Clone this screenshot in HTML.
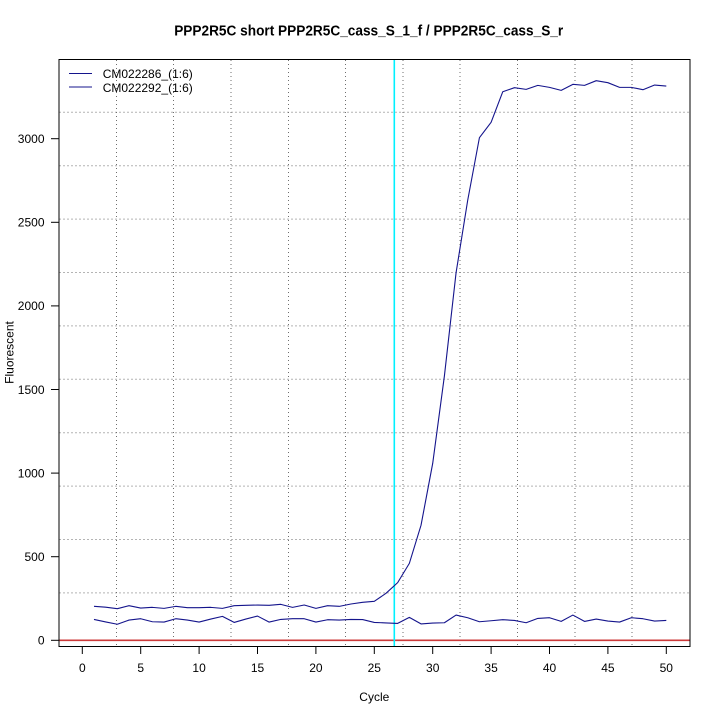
<!DOCTYPE html>
<html><head><meta charset="utf-8"><style>
html,body{margin:0;padding:0;background:#fff;}
svg{display:block;}
text{font-family:"Liberation Sans",Arial,sans-serif;fill:#000;}
</style></head><body>
<svg width="720" height="720" viewBox="0 0 720 720" xmlns="http://www.w3.org/2000/svg">
<rect width="720" height="720" fill="#fff"/>
<text x="368.7" y="35.5" text-anchor="middle" font-size="14.4" font-weight="bold" textLength="389" lengthAdjust="spacingAndGlyphs">PPP2R5C short PPP2R5C_cass_S_1_f / PPP2R5C_cass_S_r</text>
<!-- horizontal grid -->
<g stroke="#b4b4b4" stroke-width="1" stroke-dasharray="2,2">
<line x1="59" x2="690" y1="112.3" y2="112.3"/>
<line x1="59" x2="690" y1="165.7" y2="165.7"/>
<line x1="59" x2="690" y1="219.1" y2="219.1"/>
<line x1="59" x2="690" y1="272.5" y2="272.5"/>
<line x1="59" x2="690" y1="325.9" y2="325.9"/>
<line x1="59" x2="690" y1="379.3" y2="379.3"/>
<line x1="59" x2="690" y1="432.7" y2="432.7"/>
<line x1="59" x2="690" y1="486.1" y2="486.1"/>
<line x1="59" x2="690" y1="539.5" y2="539.5"/>
<line x1="59" x2="690" y1="592.9" y2="592.9"/>
</g>
<!-- vertical grid -->
<g stroke="#6e6e6e" stroke-width="1" stroke-dasharray="1,3">
<line x1="116.5" x2="116.5" y1="60" y2="646"/>
<line x1="173.5" x2="173.5" y1="60" y2="646"/>
<line x1="231" x2="231" y1="60" y2="646"/>
<line x1="288.5" x2="288.5" y1="60" y2="646"/>
<line x1="345.5" x2="345.5" y1="60" y2="646"/>
<line x1="403" x2="403" y1="60" y2="646"/>
<line x1="460" x2="460" y1="60" y2="646"/>
<line x1="517.5" x2="517.5" y1="60" y2="646"/>
<line x1="575" x2="575" y1="60" y2="646"/>
<line x1="632" x2="632" y1="60" y2="646"/>
</g>
<!-- red baseline -->
<line x1="59" x2="690" y1="640.3" y2="640.3" stroke="#cc3a3a" stroke-width="1.6"/>
<!-- cyan threshold -->
<line x1="394.3" x2="394.3" y1="59" y2="646" stroke="#00f0ff" stroke-width="1.6"/>
<!-- series -->
<g transform="translate(82.3,640.3) scale(11.68,-0.1672)" fill="none" stroke="#14148c" stroke-width="1.1">
<polyline vector-effect="non-scaling-stroke" stroke-linejoin="round" points="1,203 2,198 3,189 4,207 5,193 6,197 7,191 8,203 9,195 10,195 11,197 12,191 13,207 14,209 15,211 16,209 17,215 18,197 19,211 20,191 21,207 22,203 23,217 24,227 25,233 26,281 27,345 28,460 29,688 30,1058 31,1580 32,2198 33,2633 34,3006 35,3098 36,3281 37,3305 38,3295 39,3319 40,3307 41,3289 42,3325 43,3319 44,3347 45,3335 46,3307 47,3307 48,3293 49,3321 50,3315"/>
<polyline vector-effect="non-scaling-stroke" stroke-linejoin="round" points="1,125 2,110 3,96 4,121 5,129 6,111 7,109 8,129 9,121 10,109 11,127 12,143 13,107 14,127 15,145 16,109 17,125 18,129 19,129 20,109 21,123 22,121 23,125 24,124 25,107 26,104 27,101 28,137 29,98 30,103 31,105 32,151 33,135 34,111 35,117 36,123 37,119 38,105 39,131 40,135 41,113 42,151 43,113 44,127 45,115 46,109 47,135 48,129 49,115 50,119"/>
</g>
<!-- box -->
<line x1="59" x2="690" y1="59.5" y2="59.5" stroke="#000" stroke-width="1"/>
<line x1="59" x2="690" y1="646.5" y2="646.5" stroke="#000" stroke-width="1"/>
<line x1="59" x2="59" y1="59" y2="647" stroke="#000" stroke-width="1"/>
<line x1="690" x2="690" y1="59" y2="647" stroke="#000" stroke-width="1"/>
<!-- legend -->
<line x1="69" x2="92" y1="73.5" y2="73.5" stroke="#14148c" stroke-width="1"/>
<line x1="69" x2="92" y1="87" y2="87" stroke="#14148c" stroke-width="1"/>
<text x="102.7" y="78" font-size="12">CM022286_(1:6)</text>
<text x="102.7" y="92" font-size="12">CM022292_(1:6)</text>
<!-- y axis ticks -->
<g stroke="#000" stroke-width="1">
<line x1="51" x2="59" y1="640.3" y2="640.3"/>
<line x1="51" x2="59" y1="556.7" y2="556.7"/>
<line x1="51" x2="59" y1="473.1" y2="473.1"/>
<line x1="51" x2="59" y1="389.5" y2="389.5"/>
<line x1="51" x2="59" y1="305.9" y2="305.9"/>
<line x1="51" x2="59" y1="222.3" y2="222.3"/>
<line x1="51" x2="59" y1="138.7" y2="138.7"/>
</g>
<g font-size="12" text-anchor="end">
<text x="44.5" y="644.5">0</text>
<text x="44.5" y="561">500</text>
<text x="44.5" y="477.4">1000</text>
<text x="44.5" y="393.8">1500</text>
<text x="44.5" y="310.2">2000</text>
<text x="44.5" y="226.6">2500</text>
<text x="44.5" y="143">3000</text>
</g>
<!-- x axis ticks -->
<g stroke="#000" stroke-width="1">
<line x1="82.3" x2="82.3" y1="646" y2="654"/>
<line x1="140.7" x2="140.7" y1="646" y2="654"/>
<line x1="199.1" x2="199.1" y1="646" y2="654"/>
<line x1="257.5" x2="257.5" y1="646" y2="654"/>
<line x1="315.9" x2="315.9" y1="646" y2="654"/>
<line x1="374.3" x2="374.3" y1="646" y2="654"/>
<line x1="432.7" x2="432.7" y1="646" y2="654"/>
<line x1="491.1" x2="491.1" y1="646" y2="654"/>
<line x1="549.5" x2="549.5" y1="646" y2="654"/>
<line x1="607.9" x2="607.9" y1="646" y2="654"/>
<line x1="666.3" x2="666.3" y1="646" y2="654"/>
</g>
<g font-size="12" text-anchor="middle">
<text x="82.3" y="672">0</text>
<text x="140.7" y="672">5</text>
<text x="199.1" y="672">10</text>
<text x="257.5" y="672">15</text>
<text x="315.9" y="672">20</text>
<text x="374.3" y="672">25</text>
<text x="432.7" y="672">30</text>
<text x="491.1" y="672">35</text>
<text x="549.5" y="672">40</text>
<text x="607.9" y="672">45</text>
<text x="666.3" y="672">50</text>
</g>
<text x="374.3" y="701" font-size="12" text-anchor="middle">Cycle</text>
<text transform="translate(13.5,352.5) rotate(-90)" x="0" y="0" font-size="12" text-anchor="middle">Fluorescent</text>
</svg>
</body></html>
